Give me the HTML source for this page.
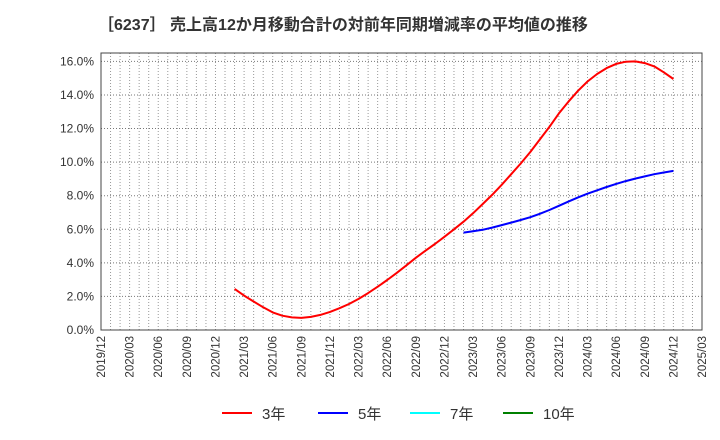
<!DOCTYPE html>
<html><head><meta charset="utf-8"><style>
body{margin:0;background:#fff;}
svg{display:block;font-family:"Liberation Sans","Noto Sans CJK JP",sans-serif;}
</style></head><body>
<svg id="c" width="720" height="440">
<text x="98" y="30" font-size="16" font-weight="bold" fill="#333">［6237］ 売上高12か月移動合計の対前年同期増減率の平均値の推移</text>
</svg>
<script>
const yTicks=[0,2,4,6,8,10,12,14,16];
const xLabels=["2019/12","2020/03","2020/06","2020/09","2020/12","2021/03","2021/06","2021/09","2021/12","2022/03","2022/06","2022/09","2022/12","2023/03","2023/06","2023/09","2023/12","2024/03","2024/06","2024/09","2024/12","2025/03"];
const red3Start=14; // months after 2019/12
const red3=[2.45,2.05,1.7,1.35,1.05,0.85,0.75,0.72,0.78,0.9,1.08,1.3,1.55,1.85,2.2,2.58,2.98,3.4,3.85,4.3,4.72,5.12,5.55,6.0,6.45,6.95,7.5,8.05,8.65,9.28,9.92,10.6,11.35,12.1,12.9,13.6,14.25,14.8,15.25,15.6,15.85,15.98,16.0,15.9,15.7,15.35,14.95];
const blue5Start=38;
const blue5=[5.8,5.88,5.97,6.1,6.25,6.4,6.55,6.72,6.92,7.15,7.4,7.65,7.9,8.12,8.32,8.52,8.7,8.87,9.02,9.15,9.28,9.38,9.48];
const legendNames=["3年","5年","7年","10年"];
const legendColors=["#ff0000","#0000ff","#00ffff","#008000"];

const svg=document.getElementById('c');const NS='http://www.w3.org/2000/svg';
const L=101,R=702,T=53,B=330,totalMonths=63;
const x=m=>L+(R-L)*m/totalMonths;
const y=v=>B-(B-T)*v/16.5;
function mk(tag,attrs,parent){const e=document.createElementNS(NS,tag);for(const k in attrs)e.setAttribute(k,attrs[k]);(parent||svg).appendChild(e);return e;}
const grid=mk('g',{});


for(let m=1;m<totalMonths;m++){mk('line',{x1:x(m),x2:x(m),y1:T,y2:B,stroke:'#999','stroke-width':1,'stroke-dasharray':'1,2'},grid);}
yTicks.forEach(v=>{if(v>0){mk('line',{x1:L,x2:R,y1:y(v),y2:y(v),stroke:'#777','stroke-width':1,'stroke-dasharray':'1,2'},grid);}
 const t=mk('text',{x:L-7,y:y(v)+4,'font-size':12,fill:'#333','text-anchor':'end'});t.textContent=v.toFixed(1)+'%';
 
 });
const frame=mk('rect',{x:L,y:T,width:R-L,height:B-T,fill:'none',stroke:'#444','stroke-width':1});


xLabels.forEach((s,i)=>{const px=x(i*3);const t=mk('text',{x:0,y:0,'font-size':11.5,fill:'#333','text-anchor':'end',transform:`translate(${px+4},${B+6}) rotate(-90)`});t.textContent=s;
 
 });
function series(arr,start,color,name){const d=arr.map((v,i)=>(i?'L':'M')+x(start+i).toFixed(1)+','+y(v).toFixed(1)).join(' ');
 const p=mk('path',{d:d,fill:'none',stroke:color,'stroke-width':2,'stroke-linejoin':'round'});
 
 }
series(red3,red3Start,'#ff0000','line-3yr');
series(blue5,blue5Start,'#0000ff','line-5yr');
const lx=[222,318,410,503];
legendNames.forEach((n,i)=>{const g=mk('g',{});
 
 
 mk('line',{x1:lx[i],x2:lx[i]+30,y1:413,y2:413,stroke:legendColors[i],'stroke-width':2},g);
 const t=mk('text',{x:lx[i]+40,y:419,'font-size':15,fill:'#333'},g);t.textContent=n;});
</script>
</body></html>
